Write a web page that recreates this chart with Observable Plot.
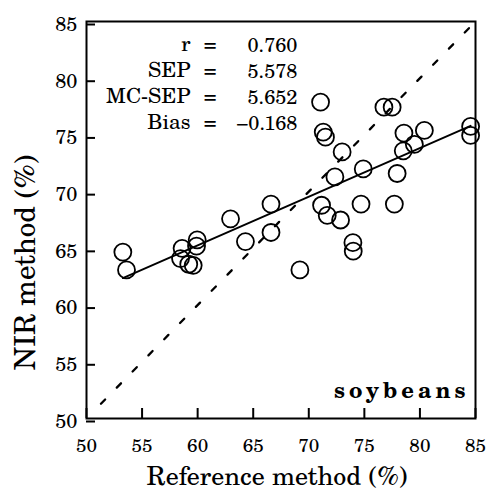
<!DOCTYPE html>
<html>
<head>
<meta charset="utf-8">
<script src="https://cdn.jsdelivr.net/npm/d3@7"></script>
<script src="https://cdn.jsdelivr.net/npm/@observablehq/plot@0.6"></script>
<style>
  html, body { margin: 0; padding: 0; background: #fff; }
  #chart svg { display: block; }
</style>
</head>
<body>
<div id="chart"></div>
<script>
// Reference method (%) values
const refValues = [53.27, 53.6, 58.6, 58.46, 59.2, 59.6, 59.9, 59.96, 62.96, 64.3,
  66.6, 66.6, 69.2, 71.06, 71.3, 71.5, 71.15, 71.66, 72.35, 72.86,
  73.0, 73.97, 74.0, 74.7, 74.9, 76.76, 77.5, 77.7, 77.95, 78.5,
  78.56, 79.5, 80.4, 84.56, 84.56];
// NIR method (%) values
const nirValues = [64.67, 63.1, 65.0, 64.1, 63.6, 63.5, 65.2, 65.75, 67.6, 65.6,
  68.9, 66.4, 63.1, 77.9, 75.25, 74.8, 68.8, 67.9, 71.3, 67.5,
  73.5, 65.5, 64.75, 68.9, 72.0, 77.45, 77.45, 68.9, 71.6, 73.6,
  75.16, 74.16, 75.4, 75.75, 74.96];
// 1:1 line extent
const diagonal = [51.3, 84.5];
// tick labels
const xTicks = [50, 55, 60, 65, 70, 75, 80, 85];
const yTicks = [50, 55, 60, 65, 70, 75, 80, 85];
// statistics
const statNames = ["r", "SEP", "MC-SEP", "Bias"];
const statValues = ["0.760", "5.578", "5.652", "\u22120.168"];
const xLabel = "Reference method (%)";
const yLabel = "NIR method (%)";
const sampleLabel = "soybeans";

const points = refValues.map((x, i) => ({x, y: nirValues[i]}));
const serif = "TeX Gyre Schola, DejaVu Serif, serif";

const svg = Plot.plot({
  width: 491,
  height: 490,
  marginLeft: 86,
  marginRight: 16,
  marginTop: 21,
  marginBottom: 72,
  style: {color: "#000", background: "#fff"},
  x: {domain: [50, 85]},
  y: {domain: [50, 85]},
  marks: [
    Plot.axisX({ticks: xTicks, tickSize: -10, tickPadding: 30, fontSize: 19, fontFamily: serif, strokeWidth: 2, tickFormat: d => d, label: null}),
    Plot.axisY({ticks: yTicks, tickSize: -9, tickPadding: 18, fontSize: 20, fontFamily: serif, strokeWidth: 2, tickFormat: d => d, label: null, dy: 3}),
    Plot.frame({stroke: "#000", strokeWidth: 2}),
    Plot.line(diagonal, {x: d => d, y: d => d, stroke: "#000", strokeWidth: 2.3, strokeDasharray: "6,16.6"}),
    Plot.linearRegressionY(points, {x: "x", y: "y", ci: 0, stroke: "#000", strokeWidth: 1.9}),
    Plot.dot(points, {x: "x", y: "y", r: 8.5, stroke: "#000", strokeWidth: 1.8, fill: "none"}),
    Plot.text([statNames.join("\n")], {frameAnchor: "top-left", textAnchor: "end", lineAnchor: "top", lineHeight: 1.243, fontSize: 21, fontFamily: serif, dx: 104, dy: 11}),
    Plot.text([statNames.map(() => "=").join("\n")], {frameAnchor: "top-left", textAnchor: "middle", lineAnchor: "top", lineHeight: 1.243, fontSize: 21, fontFamily: serif, dx: 123.5, dy: 11}),
    Plot.text([statValues.join("\n")], {frameAnchor: "top-left", textAnchor: "end", lineAnchor: "top", lineHeight: 1.305, fontSize: 20, fontFamily: serif, dx: 211, dy: 11.5}),
    Plot.text([sampleLabel], {frameAnchor: "bottom-right", textAnchor: "end", lineAnchor: "bottom", fontSize: 22, fontWeight: "bold", fontFamily: serif, dx: -6, dy: -20.3}),
    Plot.text([xLabel], {frameAnchor: "bottom", textAnchor: "middle", lineAnchor: "bottom", fontSize: 26, fontFamily: serif, dx: -4, dy: 66}),
    Plot.text([yLabel], {frameAnchor: "left", textAnchor: "middle", lineAnchor: "middle", rotate: -90, fontSize: 29, fontFamily: serif, dx: -60.3, dy: 42.5})
  ]
});

svg.querySelectorAll("text").forEach(t => {
  if (t.textContent === sampleLabel) t.setAttribute("letter-spacing", "4");
});
document.getElementById("chart").appendChild(svg);
</script>
</body>
</html>
